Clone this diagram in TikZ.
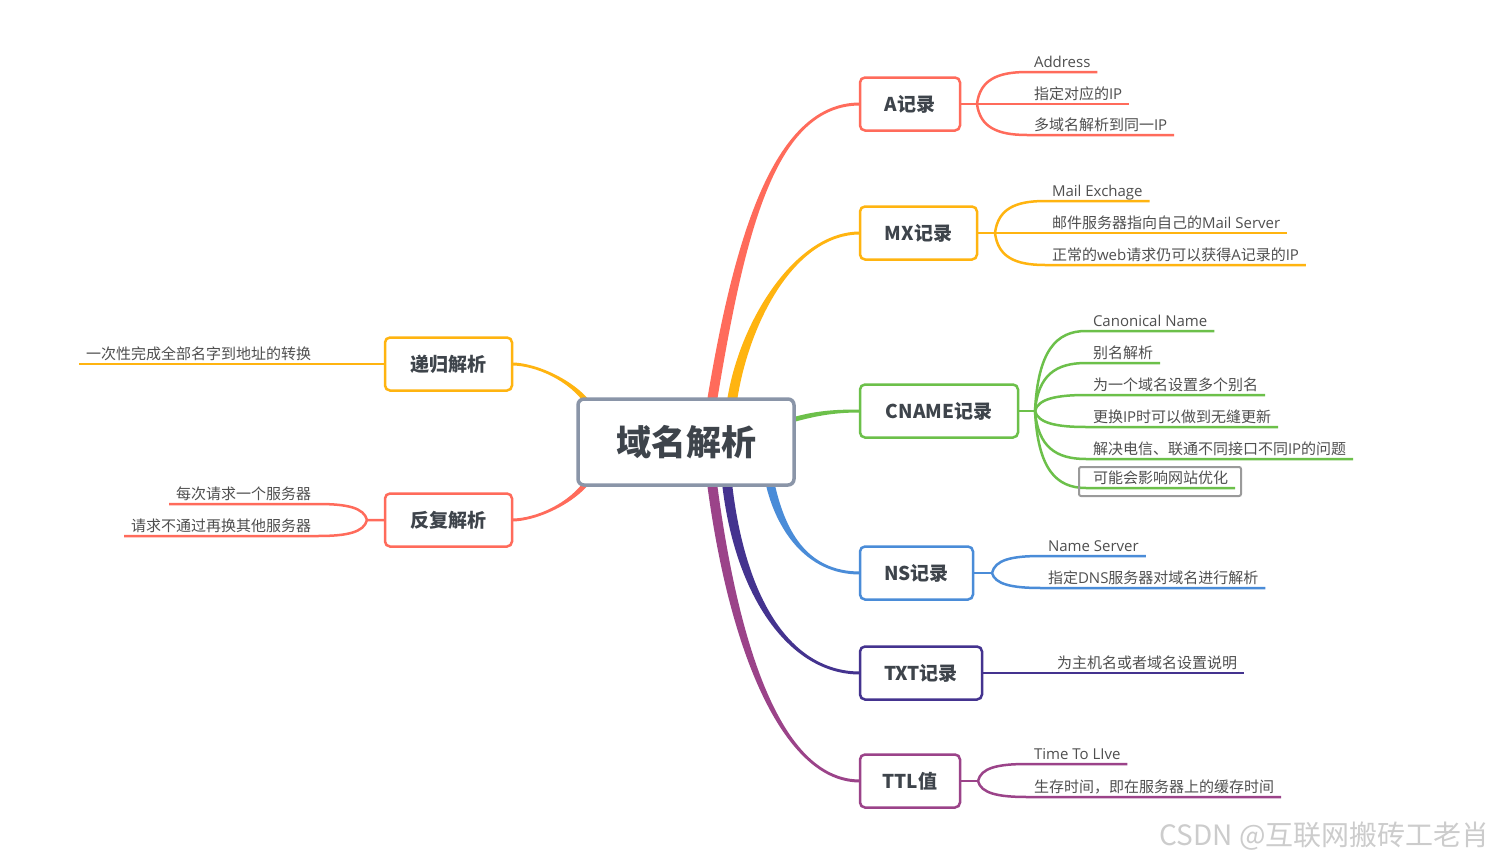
\documentclass[tikz,border=0pt]{standalone}
\usepackage{fontspec}
\setmainfont{Noto Sans CJK SC}
\newfontfamily\lat{Open Sans}
\usetikzlibrary{calc,backgrounds}
\definecolor{cred}{HTML}{FF6B5B}
\definecolor{corange}{HTML}{FFB410}
\definecolor{cgreen}{HTML}{6CC04A}
\definecolor{cblue}{HTML}{4A8CD8}
\definecolor{cindigo}{HTML}{44338F}
\definecolor{cpurple}{HTML}{9B4389}
\definecolor{cgray}{HTML}{8A95A8}
\definecolor{tdark}{HTML}{3E444B}
\definecolor{tleaf}{HTML}{4F4F4F}
\definecolor{wmgray}{HTML}{CCCCCC}
\definecolor{boxgray}{HTML}{9A9A9A}
\tikzset{
  topic/.style={draw, line width=2.5pt, rounded corners=5pt, fill=white, minimum height=53pt, inner sep=0pt, outer sep=0pt, anchor=west, text=tdark, font=\fontsize{19}{22}\selectfont\bfseries},
  central/.style={draw=cgray, line width=3.5pt, rounded corners=6pt, fill=white, minimum width=216pt, minimum height=86pt, outer sep=0pt, text=tdark, font=\fontsize{35}{40}\selectfont\bfseries},
  leaf/.style={inner xsep=7pt, inner ysep=3pt, outer sep=0pt, text height=12pt, text depth=2pt, text=tleaf, font=\fontsize{15}{18}\selectfont},
  lw/.style={anchor=south west},
  le/.style={anchor=south east},
  conn/.style={line width=2.5pt},
}
\newcommand\brtaper[6]{\fill[#1] ($(#2)-(#6)$) .. controls ($(#2)+(#3)-(#6)$) and ($(#5)+(#4)+(0,-1.5)$) .. ($(#5)+(0,-1.5)$) -- ($(#5)+(0,1.5)$) .. controls ($(#5)+(#4)+(0,1.5)$) and ($(#2)+(#3)+(#6)$) .. ($(#2)+(#6)$) -- cycle;}
\newcommand\leafconn[4]{\draw[conn,#1] (#2) .. controls ($(#2)+(#3)$) and ($(#4.south west)+(-30,0)$) .. (#4.south west) -- (#4.south east);}
\begin{document}
\begin{tikzpicture}[x=1pt,y=-1pt]
\useasboundingbox (0,0) rectangle (1494,862);
% topics
\node[central] (c) at (686,442) {域名解析};
\node[topic, draw=cred, minimum width=100pt] (A) at (860,104) {A记录};
\node[topic, draw=corange, minimum width=117pt] (MX) at (860,233) {MX记录};
\node[topic, draw=cgreen, minimum width=158pt] (CN) at (860,411) {CNAME记录};
\node[topic, draw=cblue, minimum width=113pt] (NS) at (860,573) {NS记录};
\node[topic, draw=cindigo, minimum width=122pt] (TXT) at (860,673) {TXT记录};
\node[topic, draw=cpurple, minimum width=100pt] (TTL) at (860,781) {TTL值};
\node[topic, draw=corange, minimum width=127pt, anchor=east] (R) at (512,364) {递归解析};
\node[topic, draw=cred, minimum width=127pt, anchor=east] (F) at (512,520) {反复解析};
% leaves
\node[leaf,lw] (a1) at (1027,72) {{\lat Address}};
\node[leaf,lw] (a2) at (1027,104) {指定对应的{\lat IP}};
\node[leaf,lw] (a3) at (1027,135) {多域名解析到同一{\lat IP}};
\node[leaf,lw] (m1) at (1045,201) {{\lat Mail Exchage}};
\node[leaf,lw] (m2) at (1045,233) {邮件服务器指向自己的{\lat Mail Server}};
\node[leaf,lw] (m3) at (1045,265) {正常的{\lat web}请求仍可以获得{\lat A}记录的{\lat IP}};
\node[leaf,lw] (n1) at (1086,331) {{\lat Canonical Name}};
\node[leaf,lw] (n2) at (1086,363) {别名解析};
\node[leaf,lw] (n3) at (1086,395) {为一个域名设置多个别名};
\node[leaf,lw] (n4) at (1086,427) {更换{\lat IP}时可以做到无缝更新};
\node[leaf,lw] (n5) at (1086,459) {解决电信、联通不同接口不同{\lat IP}的问题};
\node[leaf,lw] (n6) at (1086,488) {可能会影响网站优化};
\node[leaf,lw] (s1) at (1041,556) {{\lat Name Server}};
\node[leaf,lw] (s2) at (1041,588) {指定{\lat DNS}服务器对域名进行解析};
\node[leaf,lw] (t1) at (1050,673) {为主机名或者域名设置说明};
\node[leaf,lw] (l1) at (1027,764) {{\lat Time To LIve}};
\node[leaf,lw] (l2) at (1027,797) {生存时间，即在服务器上的缓存时间};
\node[leaf,lw] (r1) at (79,364) {一次性完成全部名字到地址的转换};
\node[leaf,le] (f1) at (318,504) {每次请求一个服务器};
\node[leaf,le] (f2) at (318,536) {请求不通过再换其他服务器};
% coordinates
\coordinate (fA) at ($(A.east)+(17,0)$);
\coordinate (fMX) at ($(MX.east)+(18,0)$);
\coordinate (fC) at ($(CN.east)+(17,0)$);
\coordinate (fN) at ($(NS.east)+(19,0)$);
\coordinate (fT) at ($(TTL.east)+(18,0)$);
\coordinate (fF) at ($(F.west)+(-18,0)$);
\coordinate (sA) at ($(c.north)+(26,2)$);
\coordinate (sMX) at ($(c.north)+(46,2)$);
\coordinate (sCN) at ($(c.east)+(-2,-22)$);
\coordinate (sNS) at ($(c.south)+(84,-2)$);
\coordinate (sTXT) at ($(c.south)+(41,-2)$);
\coordinate (sTTL) at ($(c.south)+(26,-2)$);
\coordinate (sR) at ($(c.north west)+(12,7)$);
\coordinate (sF) at ($(c.south west)+(12,-7)$);
\begin{pgfonlayer}{background}
\fill[white] (0,0) rectangle (1494,862);
\brtaper{cred}{sA}{28,-169}{-85,0}{A.west}{5,0}
\brtaper{corange}{sMX}{12,-79}{-65,0}{MX.west}{5,0}
\brtaper{cgreen}{sCN}{25,-7}{-25,0}{CN.west}{0,2.5}
\brtaper{cblue}{sNS}{10,45}{-55,0}{NS.west}{-4.5,0}
\brtaper{cindigo}{sTXT}{13,115}{-70,0}{TXT.west}{-5,0}
\brtaper{cpurple}{sTTL}{23,175}{-75,0}{TTL.west}{-5,0}
\brtaper{corange}{sR}{-17,-26}{23,0}{R.east}{-3.5,0}
\brtaper{cred}{sF}{-17,26}{23,0}{F.east}{3.5,0}
\end{pgfonlayer}
% leaf connectors
\leafconn{cred}{fA}{3,-24}{a1}
\draw[conn,cred] (A.east) -- (a2.south east);
\leafconn{cred}{fA}{3,23}{a3}
\leafconn{corange}{fMX}{3,-24}{m1}
\draw[conn,corange] (MX.east) -- (m2.south east);
\leafconn{corange}{fMX}{3,24}{m3}
\draw[conn,cgreen] (CN.east) -- (fC);
\leafconn{cgreen}{fC}{3,-60}{n1}
\leafconn{cgreen}{fC}{3,-36}{n2}
\leafconn{cgreen}{fC}{3,-12}{n3}
\leafconn{cgreen}{fC}{3,12}{n4}
\leafconn{cgreen}{fC}{3,36}{n5}
\leafconn{cgreen}{fC}{3,58}{n6}
\draw[conn,cblue] (NS.east) -- (fN);
\leafconn{cblue}{fN}{3,-13}{s1}
\leafconn{cblue}{fN}{3,11}{s2}
\draw[conn,cindigo] (TXT.east) -- (t1.south east);
\draw[conn,cpurple] (TTL.east) -- (fT);
\leafconn{cpurple}{fT}{3,-13}{l1}
\leafconn{cpurple}{fT}{3,12}{l2}
\draw[conn,corange] (r1.south west) -- (R.west);
\draw[conn,cred] (f1.south west) -- (f1.south east) .. controls ($(f1.south east)+(30,0)$) and ($(fF)+(-3,-12)$) .. (fF) -- (F.west);
\draw[conn,cred] (f2.south west) -- (f2.south east) .. controls ($(f2.south east)+(30,0)$) and ($(fF)+(-3,12)$) .. (fF);
\draw[boxgray, line width=2pt, rounded corners=2pt] ($(n6.south west)+(-7,8)$) rectangle ($(n6.north east)+(6,-1)$);
% watermark
\node[anchor=east, text=wmgray, font=\fontsize{28}{31}\selectfont, inner sep=0pt] (wm) at (1490,836) {CSDN @互联网搬砖工老肖};
\end{tikzpicture}
\end{document}
